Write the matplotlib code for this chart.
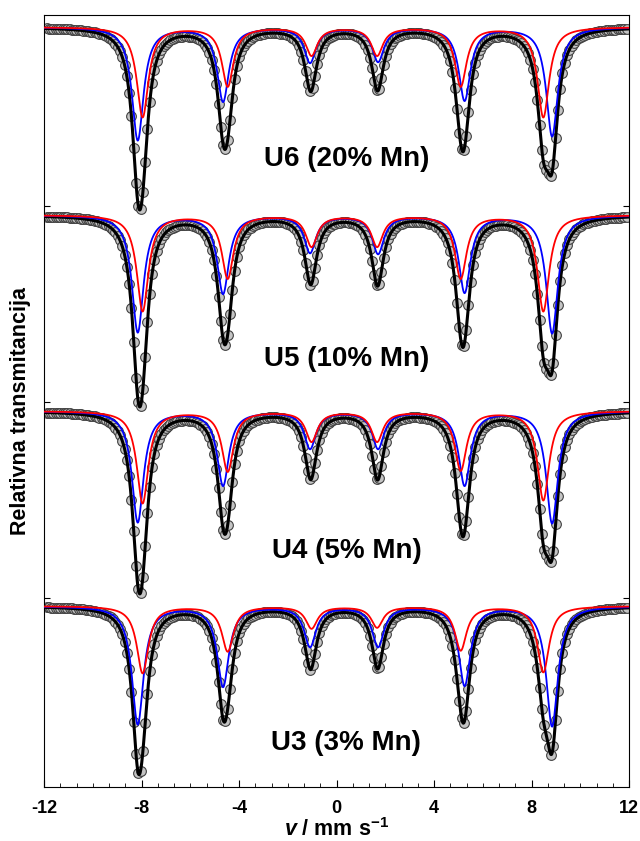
import numpy as np
import matplotlib
matplotlib.use('Agg')
import matplotlib.pyplot as plt
from matplotlib.ticker import AutoMinorLocator

plt.rcParams['font.family'] = ['Liberation Sans', 'DejaVu Sans']
plt.rcParams['font.weight'] = 'bold'
plt.rcParams['mathtext.fontset'] = 'custom'
plt.rcParams['mathtext.rm'] = 'Liberation Sans:bold'
plt.rcParams['mathtext.it'] = 'Liberation Sans:italic:bold'
plt.rcParams['mathtext.bf'] = 'Liberation Sans:bold'

# sample names and their vertical offsets in the stack
samples = ['U6 (20% Mn)', 'U5 (10% Mn)', 'U4 (5% Mn)', 'U3 (3% Mn)']
offsets = [0.0, -0.188, -0.384, -0.579]

# x ticks
xticks = [-12, -8, -4, 0, 4, 8, 12]
xticklabels = ['-12', '-8', '-4', '0', '4', '8', '12']

# line positions of the two sextets (mm/s)
blue_pos = [-8.16, -4.66, -1.09, 1.70, 5.25, 8.84]
red_pos = [-7.96, -4.47, -1.03, 1.66, 5.09, 8.48]
width = 0.58  # FWHM, mm/s

# line depths (relative transmission)
blue_depth = [
    [0.113, 0.074, 0.035, 0.034, 0.073, 0.109],
    [0.117, 0.078, 0.037, 0.038, 0.077, 0.118],
    [0.111, 0.074, 0.037, 0.037, 0.074, 0.112],
    [0.118, 0.080, 0.040, 0.040, 0.079, 0.120],
]
red_depth = [
    [0.090, 0.059, 0.028, 0.028, 0.059, 0.090],
    [0.096, 0.063, 0.031, 0.031, 0.063, 0.096],
    [0.092, 0.060, 0.030, 0.030, 0.059, 0.089],
    [0.067, 0.045, 0.022, 0.021, 0.044, 0.066],
]

# label positions
label_x = 0.4
label_y = [0.868, 0.668, 0.476, 0.284]


def sextet(v, pos, depth):
    out = np.zeros_like(v)
    for p, d in zip(pos, depth):
        out += d / (1 + (2 * (v - p) / width) ** 2)
    return out


v = np.linspace(-12, 12, 1500)
ch = np.linspace(-11.9, 11.9, 254)

fig = plt.figure(figsize=(6.4, 8.41), dpi=100)
ax = fig.add_axes([0.069, 0.0642, 0.914, 0.918])

for i in range(4):
    base = 1.0 + offsets[i]
    b = sextet(v, blue_pos, blue_depth[i])
    r = sextet(v, red_pos, red_depth[i])
    pts = base - sextet(ch, blue_pos, blue_depth[i]) - sextet(ch, red_pos, red_depth[i])
    ax.plot(ch, pts, 'o', ms=7, mfc='#c4c4c4', mec='#404040', mew=0.8, zorder=2)
    ax.plot(v, base - b - r, color='black', lw=2.2, zorder=3)
    ax.plot(v, base - b, color='#0000ff', lw=1.3, zorder=4)
    ax.plot(v, base - r, color='#ff0000', lw=1.3, zorder=5)
    ax.text(label_x, label_y[i], samples[i], ha='center', va='center',
            fontsize=20, fontweight='bold')

ax.set_xlim(-12, 12)
ax.set_ylim(0.240, 1.012)
ax.set_xticks(xticks)
ax.set_xticklabels(xticklabels, fontsize=13, fontweight='bold')
ax.xaxis.set_minor_locator(AutoMinorLocator(6))
ax.set_yticks([0.429, 0.625, 0.821])
ax.set_yticklabels([])
ax.tick_params(axis='x', which='both', direction='in', top=False, pad=9)
ax.tick_params(axis='x', which='major', length=5)
ax.tick_params(axis='x', which='minor', length=3)
ax.tick_params(axis='y', direction='in', left=True, right=True, length=4)

ax.set_xlabel(r'$\mathit{v}$ / mm s$^{\mathrm{-1}}$', fontsize=15.5, fontweight='bold', labelpad=1)
ax.set_ylabel('Relativna transmitancija', fontsize=15.5, fontweight='bold')
ax.yaxis.set_label_coords(-0.022, 0.487)

fig.savefig('out.png', dpi=100)
